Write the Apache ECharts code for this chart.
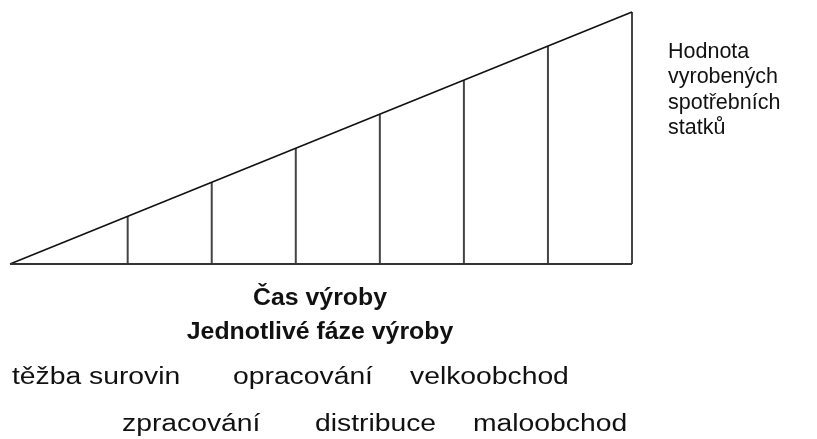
<!DOCTYPE html>
<html>
<head>
<meta charset="utf-8">
<script src="https://cdn.jsdelivr.net/npm/echarts@6/dist/echarts.min.js"></script>
<style>
  html, body { margin: 0; padding: 0; background: #fff; }
  #chart { width: 817px; height: 439px; }
</style>
</head>
<body>
<div id="chart"></div>
<script>
// osa x = čas výroby, osa y = hodnota vyrobených statků
const startPoint = [0, 0];
const endPoint = [7.4, 7.4];
const phaseTime = [1.4, 2.4, 3.4, 4.4, 5.4, 6.4, 7.4];
const phaseValue = [1.4, 2.4, 3.4, 4.4, 5.4, 6.4, 7.4];
const valueLabel = ['Hodnota', 'vyrobených', 'spotřebních', 'statků'];
const axisTitle = 'Čas výroby';
const axisSubtitle = 'Jednotlivé fáze výroby';
const phasesTop = ['těžba surovin', 'opracování', 'velkoobchod'];
const phasesBottom = ['zpracování', 'distribuce', 'maloobchod'];

let font = "'Liberation Sans', Arial, sans-serif";
let ink = '#111';
let topX = [12, 233, 410];
let bottomX = [122, 315, 473];

let chart = echarts.init(document.getElementById('chart'));

function label(text, x, y, size, stretch, bold, align) {
  return {
    type: 'text', x: x, y: y, scaleX: stretch,
    style: {
      text: text,
      font: (bold ? 'bold ' : '') + size + 'px ' + font,
      fill: ink,
      align: align || 'left',
      verticalAlign: 'middle'
    }
  };
}

let graphics = [
  label(axisTitle, 320, 299, 23, 1.08, true, 'center'),
  label(axisSubtitle, 320, 333, 23, 1.08, true, 'center')
];
valueLabel.forEach(function (line, i) {
  graphics.push(label(line, 668, 52 + i * 25.5, 21.5, 1, false));
});
phasesTop.forEach(function (name, i) {
  graphics.push(label(name, topX[i], 378, 23, 1.23, false));
});
phasesBottom.forEach(function (name, i) {
  graphics.push(label(name, bottomX[i], 425, 23, 1.23, false));
});

let option = {
  animation: false,
  grid: { left: 10, right: 185, top: 12, bottom: 175 },
  xAxis: { type: 'value', min: 0, max: 7.4, show: false },
  yAxis: { type: 'value', min: 0, max: 7.4, show: false },
  graphic: graphics,
  series: [
    {
      type: 'line',
      data: [startPoint, endPoint],
      showSymbol: false,
      clip: false,
      lineStyle: { color: ink, width: 1.6 }
    },
    {
      type: 'line',
      data: [startPoint, [endPoint[0], 0]],
      showSymbol: false,
      clip: false,
      lineStyle: { color: '#333', width: 2 }
    },
    {
      type: 'bar',
      data: phaseTime.map(function (t, i) { return [t, phaseValue[i]]; }),
      barWidth: 2,
      itemStyle: { color: '#444' }
    }
  ]
};
chart.setOption(option);
</script>
</body>
</html>
